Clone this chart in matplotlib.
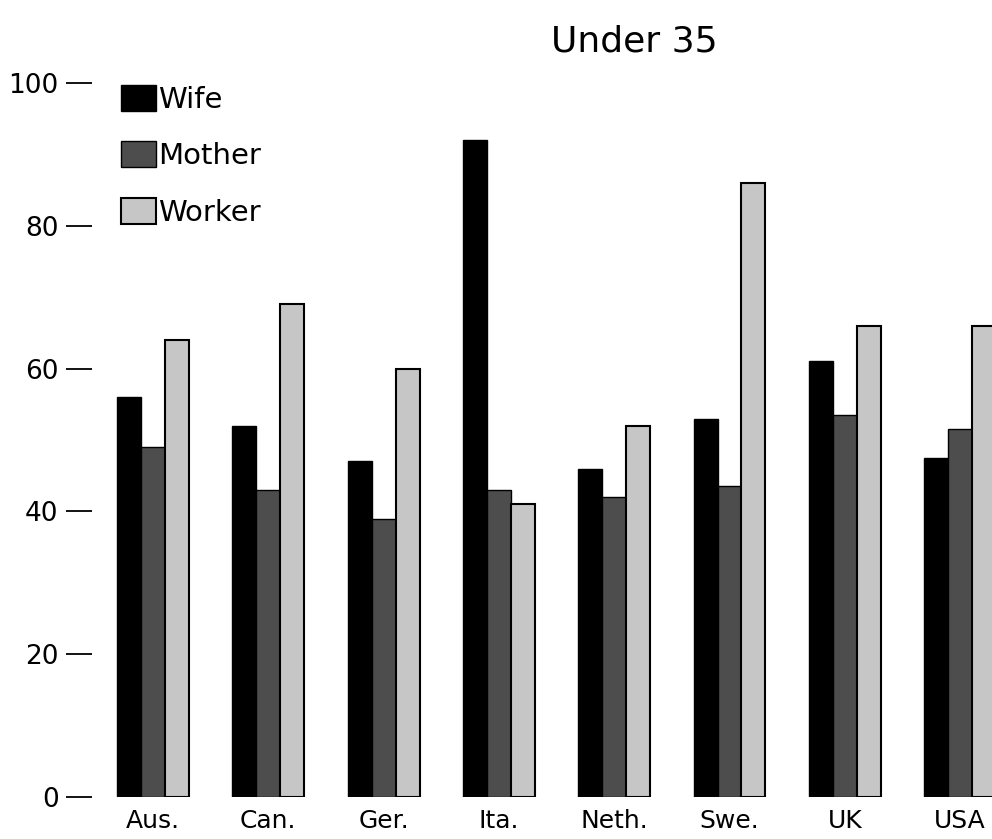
import matplotlib
matplotlib.use("Agg")
import matplotlib.pyplot as plt
import numpy as np

categories = ["Aus.", "Can.", "Ger.", "Ita.", "Neth.", "Swe.", "UK", "USA"]
wife = [56, 52, 47, 92, 46, 53, 61, 47.5]
mother = [49, 43, 39, 43, 42, 43.5, 53.5, 51.5]
worker = [64, 69, 60, 41, 52, 86, 66, 66]
yticks = [0, 20, 40, 60, 80, 100]

plt.rcParams['font.family'] = ['DejaVu Sans']

W, H = 992, 839
fig = plt.figure(figsize=(W / 100, H / 100), dpi=100)
ax = fig.add_axes([92 / W, 42 / H, (992 - 92) / W, (797 - 83) / H])

x = np.arange(len(categories))
bw = 0.208
ax.bar(x - bw, wife, bw, color='black', edgecolor='black', linewidth=1, label='Wife')
ax.bar(x, mother, bw, color='#4d4d4d', edgecolor='black', linewidth=1, label='Mother')
ax.bar(x + bw, worker, bw, color='#c6c6c6', edgecolor='black', linewidth=1.5, label='Worker')

ax.set_xlim((92 - 153) / 115.3, (992 - 153) / 115.3)
ax.set_ylim(0, 100)
for s in ax.spines.values():
    s.set_visible(False)
ax.set_yticks(yticks)
ax.set_yticklabels([str(v) for v in yticks], fontsize=19)
ax.tick_params(axis='y', direction='out', length=19, width=1.3, pad=5)
ax.set_xticks(x)
ax.set_xticklabels(categories, fontsize=18)
ax.tick_params(axis='x', length=0, pad=9)

fig.text(634 / W, 1 - 42 / H, "Under 35", fontsize=26, ha='center', va='center')

fig.legend(loc='upper left', bbox_to_anchor=(121 / W, 1 - 85 / H), frameon=False,
           fontsize=21, handlelength=1.2, handleheight=0.97, handletextpad=0.08,
           labelspacing=0.95, borderpad=0, borderaxespad=0)

fig.savefig("out.png", dpi=100)
